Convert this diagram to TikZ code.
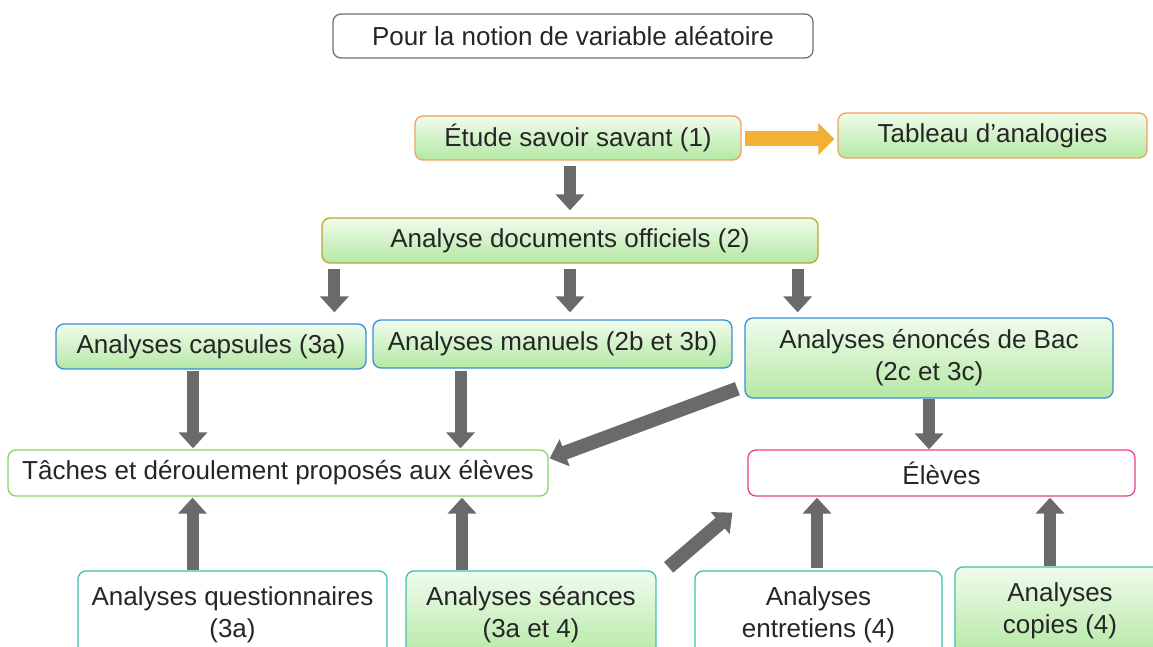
\documentclass[tikz,border=0pt]{standalone}
\usepackage{fontspec}
\setmainfont{Liberation Sans}
\usetikzlibrary{arrows.meta}
\definecolor{garr}{HTML}{6A6A6A}
\definecolor{oarr}{HTML}{F2B134}
\definecolor{obord}{HTML}{F0A060}
\definecolor{olbord}{HTML}{B8A830}
\definecolor{bbord}{HTML}{3A8ED8}
\definecolor{gbord}{HTML}{80D860}
\definecolor{pbord}{HTML}{E83E8C}
\definecolor{tbord}{HTML}{40C0B0}
\definecolor{tbord2}{HTML}{707070}
\definecolor{gtop}{HTML}{F0FCEC}
\definecolor{gbot}{HTML}{B4E8A4}
\tikzset{
  box/.style={draw, line width=1.3pt, rounded corners=8pt, inner sep=0pt, align=center,
    font=\fontsize{26}{32}\selectfont, text=black!85},
  gfill/.style={top color=gtop, bottom color=gbot},
  wfill/.style={fill=white},
  garrow/.style={draw=garr, line width=12pt, -{Triangle[length=16pt,width=28pt]}},
  oarrow/.style={draw=oarr, line width=15pt, -{Triangle[length=16pt,width=31pt]}},
}
\begin{document}
\begin{tikzpicture}[x=1pt,y=-1pt]
\useasboundingbox (0,0) rectangle (1153,647);
\clip (0,0) rectangle (1153,647);
\node[box, wfill, draw=tbord2, minimum width=480pt, minimum height=44pt] (title) at (573,36) {Pour la notion de variable aléatoire};
\node[box, gfill, draw=obord, minimum width=326pt, minimum height=44pt] (etude) at (578,138) {Étude savoir savant (1)};
\node[box, gfill, draw=obord, minimum width=309pt, minimum height=45pt] (tableau) at (992.5,135.5) {Tableau d’analogies};
\node[box, gfill, draw=olbord, minimum width=496pt, minimum height=45pt] (docs) at (570,240.5) {Analyse documents officiels (2)};
\node[box, gfill, draw=bbord, minimum width=310pt, minimum height=45pt] (caps) at (211,346.5) {Analyses capsules (3a)};
\node[box, gfill, draw=bbord, minimum width=359pt, minimum height=48pt] (manuels) at (552.5,344) {Analyses manuels (2b et 3b)};
\node[box, gfill, draw=bbord, minimum width=368pt, minimum height=80pt] (bac) at (929,358) {Analyses énoncés de Bac\\(2c et 3c)};
\node[box, wfill, draw=gbord, minimum width=540pt, minimum height=46pt] (taches) at (278,473) {Tâches et déroulement proposés aux élèves};
\node[box, wfill, draw=pbord, minimum width=387pt, minimum height=46pt] (eleves) at (941.5,473) {Élèves};
\node[box, wfill, draw=tbord, minimum width=309pt, minimum height=88pt] (quest) at (232.5,615) {Analyses questionnaires\\(3a)};
\node[box, gfill, draw=tbord, minimum width=250pt, minimum height=88pt] (seances) at (531,615) {Analyses séances\\(3a et 4)};
\node[box, wfill, draw=tbord, minimum width=247pt, minimum height=88pt] (entretiens) at (818.5,615) {Analyses\\entretiens (4)};
\node[box, gfill, draw=tbord, minimum width=210pt, minimum height=88pt] (copies) at (1060,611) {Analyses\\copies (4)};
% arrows
\draw[oarrow] ([xshift=3pt]etude.east |- 0,139) -- ([xshift=-3pt]tableau.west |- 0,139);
\draw[garrow, shorten <=5pt, shorten >=7pt] ([xshift=-8pt]etude.south) -- ([xshift=-8pt]etude.south |- docs.north);
\draw[garrow, shorten <=5pt, shorten >=11pt] ([xshift=13pt]docs.south west) -- ([xshift=13pt]docs.south west |- caps.north);
\draw[garrow, shorten <=5pt, shorten >=7pt] (docs.south) -- (docs.south |- manuels.north);
\draw[garrow, shorten <=5pt, shorten >=5pt] ([xshift=-21pt]docs.south east) -- ([xshift=-21pt]docs.south east |- bac.north);
\draw[garrow, shorten <=1pt, shorten >=1pt] ([xshift=-18pt]caps.south) -- ([xshift=-18pt]caps.south |- taches.north);
\draw[garrow, shorten <=2pt, shorten >=1pt] ([xshift=-92pt]manuels.south) -- ([xshift=-92pt]manuels.south |- taches.north);
\draw[garrow, line width=14pt] ([xshift=-7pt,yshift=10pt]bac.south west) -- ([xshift=1pt,yshift=-9pt]taches.north east);
\draw[garrow] (bac.south) -- (bac.south |- eleves.north);
\draw[garrow, shorten >=1pt] ([xshift=-40pt]quest.north) -- ([xshift=-40pt]quest.north |- taches.south);
\draw[garrow, shorten >=1pt] ([xshift=-69pt]seances.north) -- ([xshift=-69pt]seances.north |- taches.south);
\draw[garrow, shorten >=1pt] ([xshift=-1.5pt,yshift=2pt]entretiens.north) -- ([xshift=-1.5pt]entretiens.north |- eleves.south);
\draw[garrow, shorten >=1pt] ([xshift=-10pt]copies.north) -- ([xshift=-10pt]copies.north |- eleves.south);
\draw[garrow, line width=14pt] ([xshift=12pt,yshift=3pt]seances.north east) -- ([xshift=-15pt,yshift=-16pt]eleves.south west);
\end{tikzpicture}
\end{document}
